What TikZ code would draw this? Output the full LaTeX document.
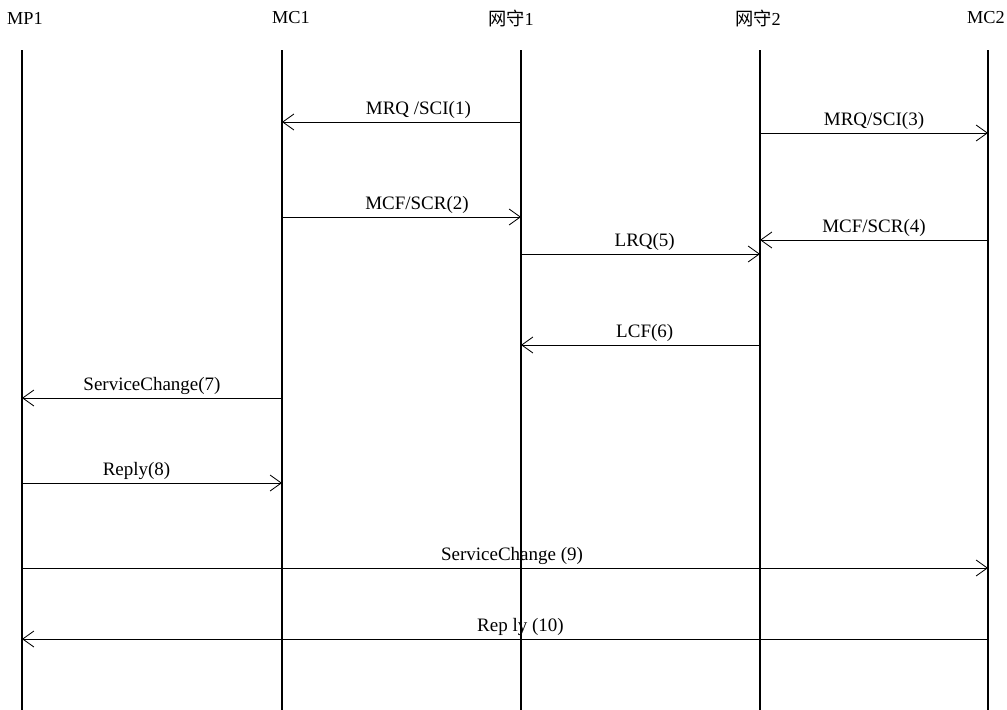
\documentclass[tikz,border=0pt]{standalone}
\usepackage{fontspec}
\setmainfont{Liberation Serif}
\newfontfamily\cjk{Noto Sans CJK SC}
\usepackage{tikz}
\usetikzlibrary{
    arrows.meta,
    positioning,
    calc
}
\tikzset{
  head/.style  = {font=\fontsize{13}{15}\selectfont, inner sep=1pt},
  life/.style  = {line width=1.3pt, black},
  msg/.style   = {-{Straight Barb[length=2.8mm, width=4mm, line width=0.6pt]},
                  line width=0.6pt, black},
  lbl/.style   = {above=1pt, font=\fontsize{13.5}{16}\selectfont, inner sep=1pt}
}

\begin{document}
\begin{tikzpicture}[x=0.025cm, y=-0.025cm]
      \useasboundingbox (0,0) rectangle (1007,710);
      % lifeline ends
      \coordinate (mp1t) at (22,50);   \coordinate (mp1b) at (22,710);
      \coordinate (mc1t) at (282,50);  \coordinate (mc1b) at (282,710);
      \coordinate (gk1t) at (521,50);  \coordinate (gk1b) at (521,710);
      \coordinate (gk2t) at (760,50);  \coordinate (gk2b) at (760,710);
      \coordinate (mc2t) at (988,50);  \coordinate (mc2b) at (988,710);
      % headers
      \node[head] (mp1) at (25,18) {MP1};
      \node[head] (mc1) at (291,18) {MC1};
      \node[head] (gk1) at (511,18) {{\cjk 网守}1};
      \node[head] (gk2) at (758,18) {{\cjk 网守}2};
      \node[head] (mc2) at (986,18) {MC2};
      \draw[life] (mp1t) -- (mp1b);
      \draw[life] (mc1t) -- (mc1b);
      \draw[life] (gk1t) -- (gk1b);
      \draw[life] (gk2t) -- (gk2b);
      \draw[life] (mc2t) -- (mc2b);
      % messages
      \draw[msg] (gk1t |- 0,122) -- node[lbl, xshift=12]{MRQ /SCI(1)} (mc1t |- 0,122);
      \draw[msg] (mc1t |- 0,217) -- node[lbl, xshift=11]{MCF/SCR(2)} (gk1t |- 0,217);
      \draw[msg] (gk2t |- 0,133) -- node[lbl]{MRQ/SCI(3)} (mc2t |- 0,133);
      \draw[msg] (mc2t |- 0,240) -- node[lbl]{MCF/SCR(4)} (gk2t |- 0,240);
      \draw[msg] (gk1t |- 0,254) -- node[lbl, xshift=3]{LRQ(5)} (gk2t |- 0,254);
      \draw[msg] (gk2t |- 0,345) -- node[lbl, xshift=3]{LCF(6)} (gk1t |- 0,345);
      \draw[msg] (mc1t |- 0,398) -- node[lbl]{ServiceChange(7)} (mp1t |- 0,398);
      \draw[msg] (mp1t |- 0,483) -- node[lbl, xshift=-11]{Reply(8)} (mc1t |- 0,483);
      \draw[msg] (mp1t |- 0,568) -- node[lbl, xshift=5]{ServiceChange (9)} (mc2t |- 0,568);
      \draw[msg] (mc2t |- 0,639) -- node[lbl, xshift=11]{Rep ly (10)} (mp1t |- 0,639);
    \end{tikzpicture}
\end{document}
